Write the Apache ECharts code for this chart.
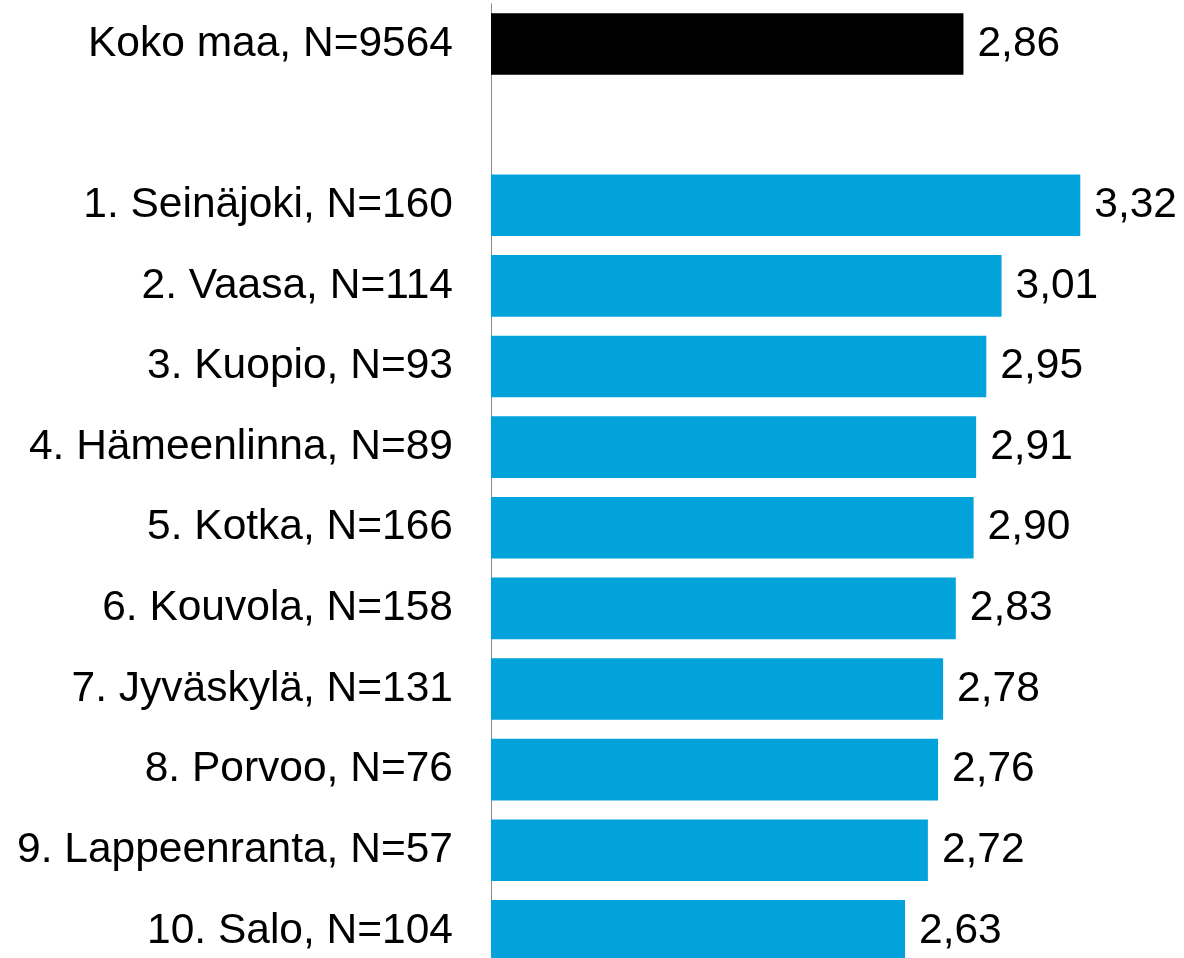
<!DOCTYPE html>
<html>
<head>
<meta charset="utf-8">
<script src="https://cdn.jsdelivr.net/npm/echarts@6/dist/echarts.min.js"></script>
<style>
  html, body { margin: 0; padding: 0; background: #fff; }
  #chart { width: 1184px; height: 958px; }
</style>
</head>
<body>
<div id="chart"></div>
<script>
// rivit ylhäältä alas, tyhjä rivi koko maan ja listan välissä
const categories = [
  'Koko maa, N=9564', '',
  '1. Seinäjoki, N=160', '2. Vaasa, N=114', '3. Kuopio, N=93',
  '4. Hämeenlinna, N=89', '5. Kotka, N=166', '6. Kouvola, N=158',
  '7. Jyväskylä, N=131', '8. Porvoo, N=76', '9. Lappeenranta, N=57',
  '10. Salo, N=104'
]
const values = [2.86, null, 3.32, 3.01, 2.95, 2.91, 2.90, 2.83, 2.78, 2.76, 2.72, 2.63]
const totalIndex = 0

const blue = '#02a3da'
const chart = echarts.init(document.getElementById('chart'))
chart.setOption({
  animation: false,
  grid: { left: 491, top: 3.7, width: 635, height: 967.5, outerBoundsMode: 'none', containLabel: false },
  xAxis: {
    type: 'value',
    min: 1,
    max: 3.5,
    show: false
  },
  yAxis: {
    type: 'category',
    inverse: true,
    data: categories,
    axisLine: { show: true, lineStyle: { color: '#8c8c8c', width: 1 } },
    axisTick: { show: false },
    axisLabel: {
      color: '#000',
      fontSize: 42.5,
      fontFamily: 'Liberation Sans, Arial, sans-serif',
      margin: 38,
      padding: [7, 0, 0, 0]
    }
  },
  series: [{
    type: 'bar',
    barCategoryGap: '23.5%',
    data: values.map((v, i) => ({
      value: v,
      itemStyle: { color: i === totalIndex ? '#000' : blue }
    })),
    label: {
      show: true,
      position: 'right',
      distance: 14,
      color: '#000',
      fontSize: 42.5,
      fontFamily: 'Liberation Sans, Arial, sans-serif',
      padding: [7, 0, 0, 0],
      formatter: p => p.value == null ? '' : p.value.toFixed(2).replace('.', ',')
    }
  }]
})
</script>
</body>
</html>
